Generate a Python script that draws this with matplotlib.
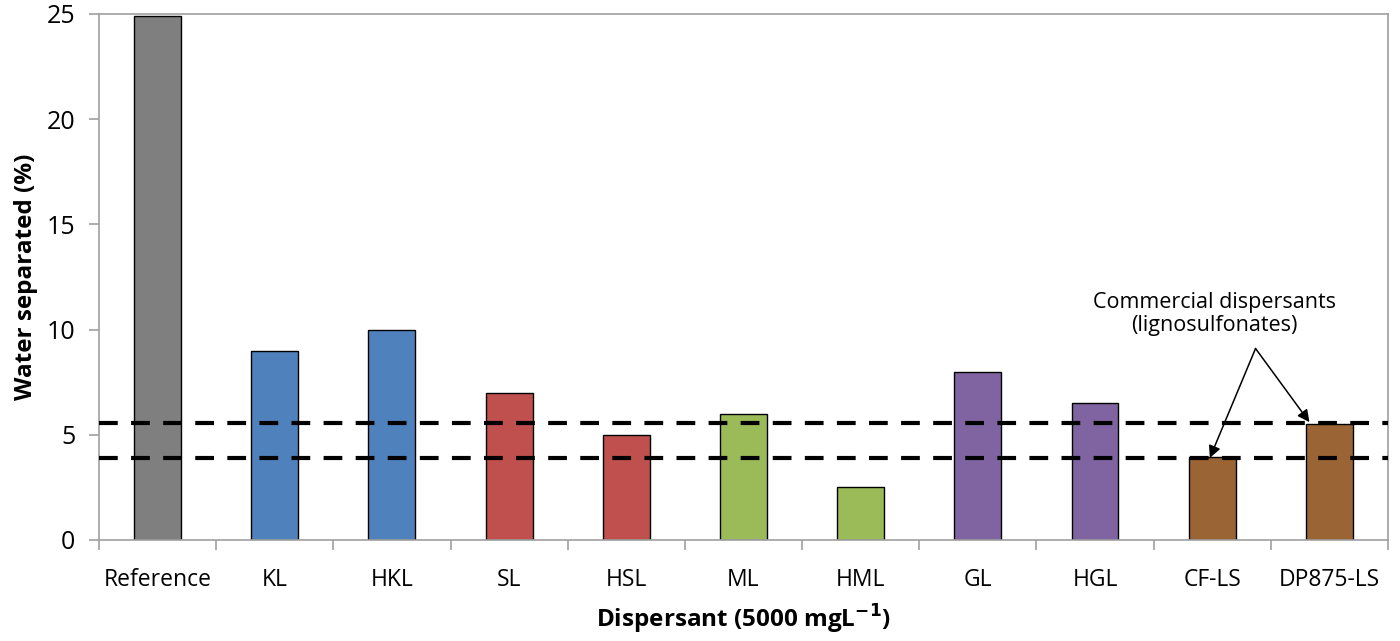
import numpy as np
import matplotlib.pyplot as plt

plt.rcParams['font.family'] = ['Open Sans', 'DejaVu Sans']

# values
dispersants = ["Reference", "KL", "HKL", "SL", "HSL", "ML", "HML", "GL", "HGL", "CF-LS", "DP875-LS"]
water_sep = [24.9, 9.0, 10.0, 7.0, 5.0, 6.0, 2.5, 8.0, 6.5, 3.95, 5.5]
bar_colors = ["#7F7F7F", "#4F81BD", "#4F81BD", "#C0504D", "#C0504D", "#9BBB59",
              "#9BBB59", "#8064A2", "#8064A2", "#9B6434", "#9B6434"]
commercial_levels = [5.57, 3.92]


def main() -> None:
    fig = plt.figure(figsize=(14, 6.41), dpi=100)
    ax = fig.add_axes([0.0707, 0.1576, 0.9207, 0.8206])
    x = np.arange(len(dispersants))
    ax.bar(x, water_sep, width=0.4, color=bar_colors, edgecolor="black", linewidth=1.0, zorder=2)

    for lvl in commercial_levels:
        ax.axhline(lvl, color="black", linestyle=(0, (4.5, 3.2)), linewidth=3.0, zorder=3)

    ax.set_xlim(-0.5, len(dispersants) - 0.5)
    ax.set_ylim(0, 25)
    ax.set_yticks(range(0, 26, 5))
    ax.set_xticks(x)
    ax.set_xticklabels(dispersants)
    ax.set_xticks(np.arange(-0.5, len(dispersants), 1.0), minor=True)
    ax.tick_params(axis="x", which="major", length=0, pad=20, labelsize=16.5, colors="black")
    ax.tick_params(axis="x", which="minor", length=7, width=1.2, color="#A0A0A0", direction="out")
    ax.tick_params(axis="y", length=7, width=1.2, color="#A0A0A0", labelsize=18, pad=10)
    for s in ax.spines.values():
        s.set_color("#A0A0A0")
        s.set_linewidth(1.2)

    ax.set_ylabel("Water separated (%)", fontsize=17.5, fontweight="bold", labelpad=6)
    ax.set_xlabel(r"Dispersant (5000 mgL$^{\mathbf{-1}}$)", fontsize=17.5, fontweight="bold", labelpad=8)

    # annotation for commercial lignosulfonates
    ax.text(9.02, 10.75, "Commercial dispersants\n(lignosulfonates)", ha="center", va="center",
            fontsize=15.5, linespacing=1.1)
    start = (9.37, 9.1)
    ax.annotate("", xy=(8.98, water_sep[9] - 0.05), xytext=start,
                arrowprops=dict(arrowstyle="-|>", color="black", lw=1.1, mutation_scale=18,
                                shrinkA=0, shrinkB=0))
    ax.annotate("", xy=(9.83, water_sep[10] + 0.1), xytext=start,
                arrowprops=dict(arrowstyle="-|>", color="black", lw=1.1, mutation_scale=18,
                                shrinkA=0, shrinkB=0))

    fig.savefig("out.png", dpi=100)


if __name__ == "__main__":
    main()
